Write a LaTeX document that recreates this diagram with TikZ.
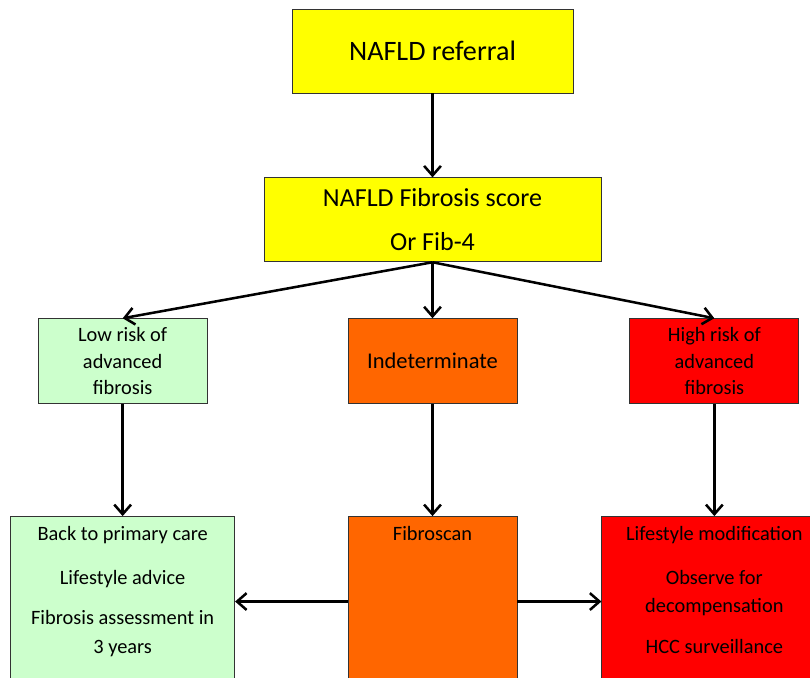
\documentclass[tikz,border=0pt]{standalone}
\usepackage{fontspec}
\setmainfont{Carlito}
\usetikzlibrary{arrows.meta,positioning}
\definecolor{lowgreen}{RGB}{204,255,204}
\definecolor{midorange}{RGB}{255,102,0}
\definecolor{topyellow}{RGB}{255,255,0}

\begin{document}
\begin{tikzpicture}[
    node distance=1.4cm,
    block/.style={draw=black!80, line width=0.6pt, minimum width=4.225cm, minimum height=2.125cm, align=center, font=\fontsize{14.5}{19}\selectfont},
    tallblock/.style={block, minimum height=4.25cm},
    note/.style={align=center, inner sep=0pt, font=\fontsize{14.5}{20}\selectfont},
    link/.style={-{Straight Barb[length=2.4mm,width=4.2mm]}, line width=1.8pt}
]
\useasboundingbox (0,0) rectangle (20.25,-16.95);
\clip (0,0) rectangle (20.25,-16.95);
\node[block, fill=topyellow, minimum width=7.025cm, minimum height=2.1cm, font=\fontsize{20}{24}\selectfont] (ref) at (10.8125,-1.275) {NAFLD referral};
\node[block, below=2.1cm of ref, fill=topyellow, minimum width=8.425cm, minimum height=2.1cm, font=\fontsize{18.5}{31}\selectfont] (fib) {NAFLD Fibrosis score\\Or Fib-4};
\node[block, below=of fib, fill=midorange, font=\fontsize{16}{19}\selectfont] (ind) {Indeterminate};
\node[block, left=3.5cm of ind, fill=lowgreen] (low) {Low risk of\\advanced\\fibrosis};
\node[block, right=2.8cm of ind, fill=red] (high) {High risk of\\advanced\\fibrosis};
\node[tallblock, below=2.8cm of low, minimum width=5.6cm, fill=lowgreen] (back) {};
\node[tallblock, below=2.8cm of ind, fill=midorange] (scan) {};
\node[tallblock, below=2.8cm of high, minimum width=5.625cm, fill=red] (life) {};
\node[note, below=0.25cm of back.north] (backtext) {Back to primary care\\[11pt]Lifestyle advice\\[9pt]Fibrosis assessment in\\3 years};
\node[note, below=0.25cm of scan.north] (scantext) {Fibroscan};
\node[note, below=0.25cm of life.north] (lifetext) {Lifestyle modification\\[11pt]Observe for\\decompensation\\[9pt]HCC surveillance};
\draw[link] (ref) -- (fib);
\draw[link] (fib.south) -- (low.north);
\draw[link] (fib.south) -- (ind.north);
\draw[link] (fib.south) -- (high.north);
\draw[link] (low) -- (back);
\draw[link] (ind) -- (scan);
\draw[link] (high) -- (life);
\draw[link] (scan.west) -- (back.east);
\draw[link] (scan.east) -- (life.west);
\end{tikzpicture}
\end{document}
